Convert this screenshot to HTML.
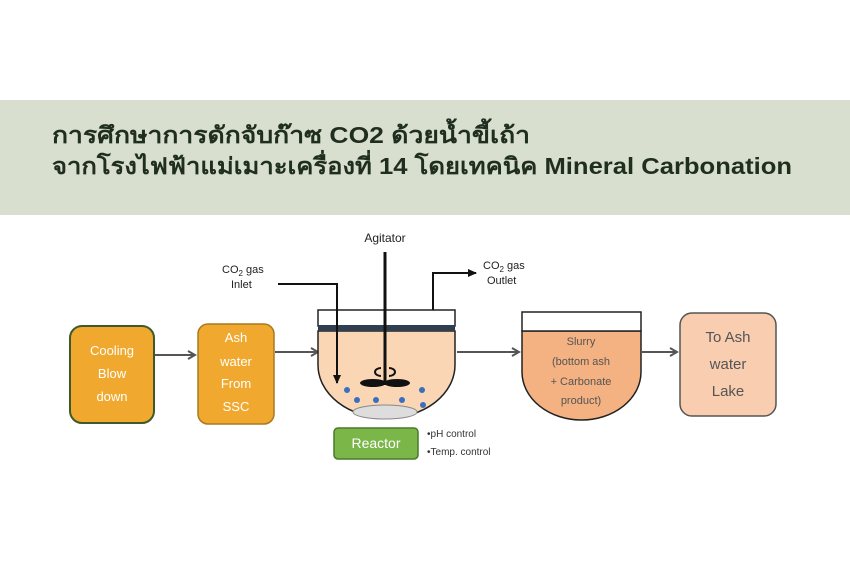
<!DOCTYPE html>
<html><head><meta charset="utf-8"><style>
body{margin:0;background:#fff;width:850px;height:565px;overflow:hidden}
svg{display:block}
text{font-family:"Liberation Sans","DejaVu Sans",sans-serif}
</style></head><body>
<svg width="850" height="565" viewBox="0 0 850 565" xmlns="http://www.w3.org/2000/svg">
<defs>
<marker id="ag" markerWidth="10" markerHeight="10" refX="8" refY="5" orient="auto" markerUnits="userSpaceOnUse"><path d="M1,1 L8,5 L1,9" fill="none" stroke="#555" stroke-width="2"/></marker>
<marker id="ak" markerWidth="10" markerHeight="10" refX="8" refY="5" orient="auto" markerUnits="userSpaceOnUse"><path d="M0,1 L9,5 L0,9 Z" fill="#111"/></marker>
</defs>
<rect x="0" y="100" width="850" height="115" fill="#d9dfcf"/>
<text x="52" y="143" font-size="23" font-weight="bold" fill="#1f2e1f" textLength="478" lengthAdjust="spacingAndGlyphs">การศึกษาการดักจับก๊าซ CO2 ด้วยน้ำขี้เถ้า</text>
<text x="52" y="174" font-size="23" font-weight="bold" fill="#1f2e1f" textLength="740" lengthAdjust="spacingAndGlyphs">จากโรงไฟฟ้าแม่เมาะเครื่องที่ 14 โดยเทคนิค Mineral Carbonation</text>

<rect x="70" y="326" width="84" height="97" rx="12" fill="#f0a92e" stroke="#3e5a28" stroke-width="2"/>
<g font-size="13" fill="#fff" text-anchor="middle">
<text x="112" y="355">Cooling</text><text x="112" y="378">Blow</text><text x="112" y="401">down</text>
</g>
<rect x="198" y="324" width="76" height="100" rx="10" fill="#f0a92e" stroke="#a87a20" stroke-width="1.5"/>
<g font-size="13" fill="#fff" text-anchor="middle">
<text x="236" y="342">Ash</text><text x="236" y="366">water</text><text x="236" y="388">From</text><text x="236" y="411">SSC</text>
</g>
<line x1="155" y1="355" x2="195" y2="355" stroke="#555" stroke-width="2" marker-end="url(#ag)"/>
<line x1="275" y1="352" x2="318" y2="352" stroke="#555" stroke-width="2" marker-end="url(#ag)"/>

<path d="M318,331 L318,365 A68.5,53 0 0 0 455,365 L455,331 Z" fill="#fbd6b5" stroke="#222" stroke-width="1.5"/>
<rect x="318" y="310" width="137" height="16" fill="#fff" stroke="#222" stroke-width="1.5"/>
<rect x="318" y="325" width="137" height="6" fill="#2f3e50"/>
<ellipse cx="385" cy="412" rx="32" ry="7" fill="#ddd" stroke="#888"/>
<g fill="#3a6fc0">
<circle cx="347" cy="390" r="3"/><circle cx="422" cy="390" r="3"/>
<circle cx="357" cy="400" r="3"/><circle cx="376" cy="400" r="3"/><circle cx="402" cy="400" r="3"/><circle cx="423" cy="405" r="3"/>
</g>
<line x1="385" y1="252" x2="385" y2="385" stroke="#111" stroke-width="3"/>
<ellipse cx="373" cy="383" rx="13" ry="4" fill="#111"/><ellipse cx="397" cy="383" rx="13" ry="4" fill="#111"/>
<path d="M381,368 a6,4 0 1 0 0,8 M389,368 a6,4 0 1 1 0,8" fill="none" stroke="#111" stroke-width="2"/>
<polyline points="278,284 337,284 337,383" fill="none" stroke="#111" stroke-width="2" marker-end="url(#ak)"/>
<polyline points="433,310 433,273 476,273" fill="none" stroke="#111" stroke-width="2" marker-end="url(#ak)"/>
<text x="385" y="242" font-size="12" text-anchor="middle" fill="#222">Agitator</text>
<text x="222" y="273" font-size="11" fill="#222">CO<tspan font-size="8" dy="3">2</tspan><tspan dy="-3"> gas</tspan></text>
<text x="231" y="288" font-size="11" fill="#222">Inlet</text>
<text x="483" y="269" font-size="11" fill="#222">CO<tspan font-size="8" dy="3">2</tspan><tspan dy="-3"> gas</tspan></text>
<text x="487" y="284" font-size="11" fill="#222">Outlet</text>
<rect x="334" y="428" width="84" height="31" rx="4" fill="#7ab648" stroke="#4a7a2a" stroke-width="1.5"/>
<text x="376" y="448" font-size="14" fill="#fff" text-anchor="middle">Reactor</text>
<text x="427" y="437" font-size="10" fill="#333">•pH control</text>
<text x="427" y="455" font-size="10" fill="#333">•Temp. control</text>

<line x1="457" y1="352" x2="519" y2="352" stroke="#555" stroke-width="2" marker-end="url(#ag)"/>
<path d="M522,331 L522,372 A59.5,48 0 0 0 641,372 L641,331 Z" fill="#f4b182" stroke="#222" stroke-width="1.5"/>
<rect x="522" y="312" width="119" height="19" fill="#fff" stroke="#222" stroke-width="1.5"/>
<g font-size="11" fill="#555" text-anchor="middle">
<text x="581" y="345">Slurry</text><text x="581" y="365">(bottom ash</text><text x="581" y="385">+ Carbonate</text><text x="581" y="404">product)</text>
</g>
<line x1="642" y1="352" x2="677" y2="352" stroke="#555" stroke-width="2" marker-end="url(#ag)"/>
<rect x="680" y="313" width="96" height="103" rx="12" fill="#f9cdb0" stroke="#555" stroke-width="1.5"/>
<g font-size="15" fill="#555" text-anchor="middle">
<text x="728" y="342">To Ash</text><text x="728" y="369">water</text><text x="728" y="396">Lake</text>
</g>
</svg>
</body></html>
